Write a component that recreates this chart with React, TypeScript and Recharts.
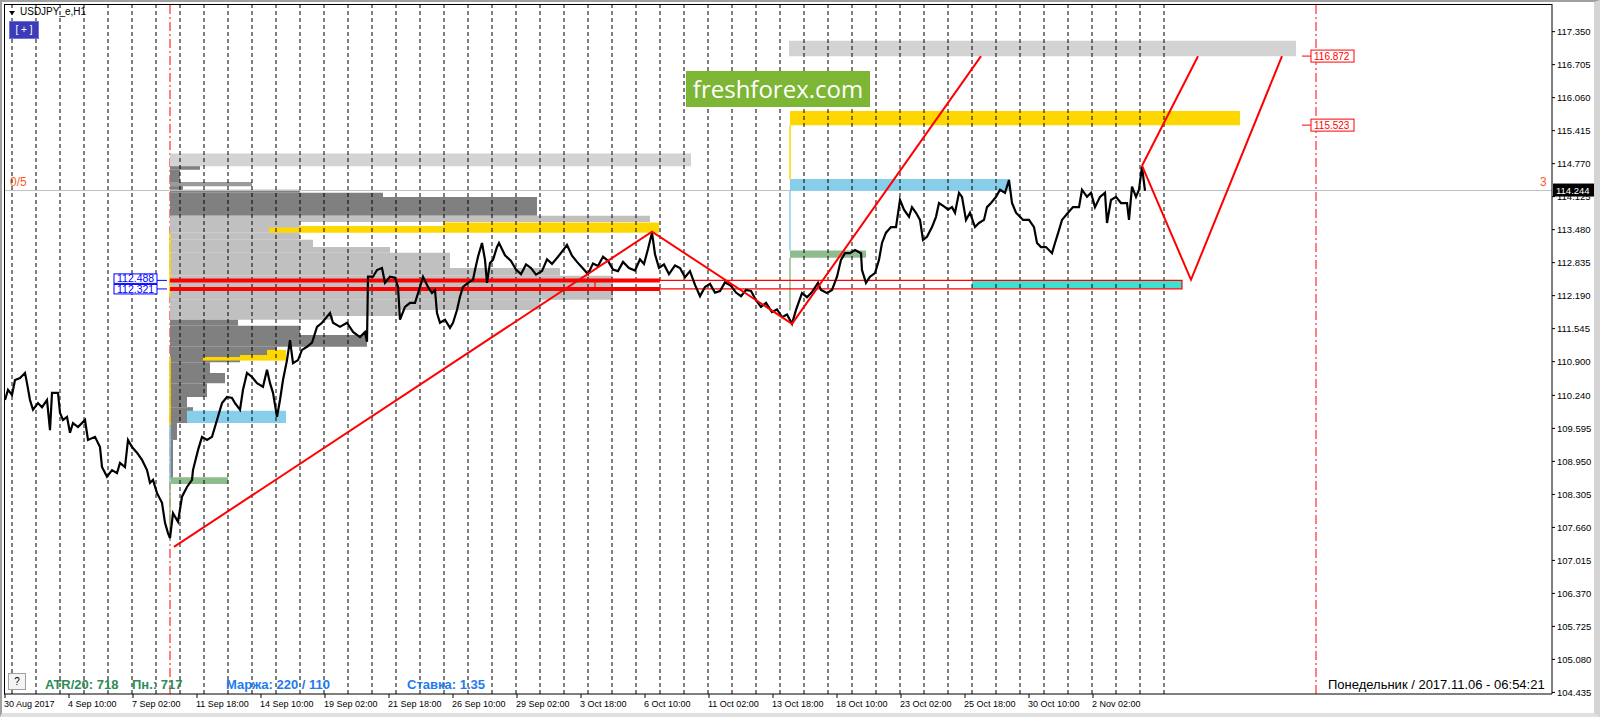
import { ComposedChart, Line, XAxis, YAxis, ReferenceLine, ReferenceArea } from 'recharts';

const FONT = '"Liberation Sans", Arial, sans-serif';

// time axis: H1 bar index -> label
const labelBars = [0, 64, 128, 192, 256, 320, 384, 448, 512, 576, 640, 704, 768, 832, 896, 960, 1024, 1088];
const labelTexts = [
  '30 Aug 2017', '4 Sep 10:00', '7 Sep 02:00', '11 Sep 18:00', '14 Sep 10:00', '19 Sep 02:00',
  '21 Sep 18:00', '26 Sep 10:00', '29 Sep 02:00', '3 Oct 18:00', '6 Oct 10:00', '11 Oct 02:00',
  '13 Oct 18:00', '18 Oct 10:00', '23 Oct 02:00', '25 Oct 18:00', '30 Oct 10:00', '2 Nov 02:00',
];

// period separators (midnight of each trading day)
const daySeparators = [
  7, 31, 55, 79, 103, 127, 151, 175, 199, 223, 247, 271, 295, 319, 343, 367, 391, 415, 439, 463,
  487, 511, 535, 559, 583, 607, 631, 655, 679, 703, 727, 751, 775, 799, 823, 847, 871, 895, 919,
  943, 967, 991, 1015, 1039, 1063, 1087, 1111, 1135, 1159,
];

const priceTicks = [
  117.35, 116.705, 116.06, 115.415, 114.77, 114.125, 113.48, 112.835, 112.19, 111.545, 110.9,
  110.24, 109.595, 108.95, 108.305, 107.66, 107.015, 106.37, 105.725, 105.08, 104.435,
];

const lastPrice = 114.244;
const upperLevel = 112.488;
const lowerLevel = 112.321;
const targetHigh = 116.872;
const targetMid = 115.523;
const sessionBar = 165;
const forecastBar = 1311;

// USDJPY H1 path [bar, price]
const priceTrace: [number, number][] = [
  [0, 110.15], [3, 110.35], [7, 110.25], [10, 110.54], [15, 110.58], [20, 110.68], [22, 110.48],
  [25, 110.15], [28, 109.96], [33, 110.09], [37, 110.01], [42, 110.15], [45, 109.56], [47, 110.29],
  [50, 110.29], [53, 110.29], [55, 109.9], [58, 109.76], [62, 109.82], [65, 109.51], [68, 109.7],
  [73, 109.62], [80, 109.76], [83, 109.37], [90, 109.43], [95, 109.23], [97, 108.84], [102, 108.65],
  [107, 108.78], [112, 108.72], [115, 108.92], [120, 108.84], [123, 109.37], [127, 109.23],
  [132, 109.12], [137, 108.98], [142, 108.78], [145, 108.53], [148, 108.59], [152, 108.33],
  [157, 108.14], [160, 107.75], [163, 107.55], [165, 107.45], [168, 107.94], [173, 107.77],
  [177, 108.26], [182, 108.45], [187, 108.59], [188, 108.78], [193, 109.17], [197, 109.43],
  [202, 109.37], [207, 109.43], [212, 109.76], [217, 110.09], [222, 110.21], [227, 110.19],
  [230, 110.09], [235, 109.96], [238, 110.35], [242, 110.68], [247, 110.6], [252, 110.48],
  [258, 110.41], [262, 110.74], [265, 110.48], [268, 110.29], [272, 109.82], [275, 110.15],
  [278, 110.54], [282, 110.93], [285, 111.32], [288, 110.87], [293, 110.93], [297, 111.13],
  [302, 111.19], [307, 111.27], [312, 111.58], [317, 111.66], [325, 111.85], [328, 111.66],
  [335, 111.58], [342, 111.66], [348, 111.48], [355, 111.38], [360, 111.48], [362, 111.29],
  [363, 112.56], [368, 112.56], [372, 112.69], [377, 112.73], [380, 112.44], [385, 112.56],
  [390, 112.54], [393, 112.36], [395, 111.72], [400, 111.97], [405, 112.05], [410, 112.05],
  [415, 112.36], [418, 112.56], [423, 112.36], [427, 112.24], [430, 112.3], [432, 111.85],
  [435, 111.66], [440, 111.72], [445, 111.56], [448, 111.66], [452, 111.91], [455, 112.17],
  [458, 112.36], [463, 112.44], [468, 112.5], [470, 112.69], [473, 112.95], [477, 113.22],
  [480, 112.89], [482, 112.44], [485, 112.83], [488, 112.89], [492, 113.14], [494, 113.22],
  [500, 112.98], [506, 112.87], [511, 112.7], [516, 112.61], [521, 112.8], [526, 112.73],
  [531, 112.6], [537, 112.67], [542, 112.9], [547, 112.81], [553, 112.95], [557, 113.05],
  [562, 113.18], [567, 112.97], [572, 112.85], [578, 112.72], [583, 112.61], [588, 112.82],
  [593, 112.77], [598, 112.95], [603, 112.87], [608, 112.7], [613, 112.67], [618, 112.85],
  [624, 112.73], [630, 112.68], [635, 112.9], [639, 112.81], [643, 113.1], [647, 113.42],
  [650, 113.0], [654, 112.73], [659, 112.8], [664, 112.61], [670, 112.78], [675, 112.73],
  [680, 112.55], [685, 112.67], [690, 112.4], [695, 112.18], [700, 112.36], [705, 112.42],
  [710, 112.25], [715, 112.28], [720, 112.45], [726, 112.38], [731, 112.25], [736, 112.18],
  [741, 112.3], [746, 112.28], [751, 112.1], [756, 111.97], [761, 112.05], [767, 111.87],
  [772, 111.92], [777, 111.77], [782, 111.82], [787, 111.64], [791, 111.91], [797, 112.24],
  [802, 112.16], [807, 112.26], [813, 112.44], [816, 112.3], [822, 112.24], [827, 112.3],
  [832, 112.56], [836, 112.89], [840, 113.02], [845, 113.02], [850, 113.08], [856, 113.02],
  [857, 112.69], [861, 112.44], [865, 112.56], [870, 112.63], [874, 112.89], [877, 113.22],
  [881, 113.42], [886, 113.53], [891, 113.53], [895, 114.06], [899, 113.87], [904, 113.73],
  [907, 113.92], [911, 113.81], [915, 113.67], [918, 113.28], [922, 113.34], [927, 113.53],
  [931, 113.73], [934, 114.0], [940, 113.92], [943, 113.87], [947, 113.92], [950, 113.81],
  [954, 114.2], [957, 114.12], [961, 113.67], [965, 113.81], [970, 113.53], [974, 113.61],
  [979, 113.67], [982, 113.92], [986, 114.0], [991, 114.12], [995, 114.26], [1000, 114.2],
  [1004, 114.45], [1007, 114.0], [1011, 113.81], [1015, 113.73], [1018, 113.67], [1024, 113.67],
  [1029, 113.53], [1032, 113.22], [1036, 113.14], [1041, 113.14], [1047, 113.02], [1050, 113.22],
  [1054, 113.47], [1057, 113.67], [1063, 113.81], [1068, 113.92], [1074, 113.92], [1077, 114.26],
  [1082, 114.12], [1086, 114.2], [1090, 113.92], [1095, 114.12], [1100, 114.2], [1102, 113.61],
  [1106, 114.06], [1111, 114.12], [1116, 114.0], [1122, 114.0], [1124, 113.67], [1127, 114.32],
  [1131, 114.12], [1134, 114.26], [1137, 114.71], [1140, 114.24],
];

// red zigzag / forecast
const zigzagPast: [number, number][] = [[169, 107.28], [647, 113.44], [787, 111.64], [976, 116.87]];
const forecastUp: [number, number][] = [[1137, 114.73], [1193, 116.87]];
const forecastSwing: [number, number][] = [[1137, 114.73], [1186, 112.5], [1277, 116.87]];

// volume profile rows [hi, lo, endBar, tone]
const profileRows: [number, number, number, string][] = [
  [114.73, 114.65, 195, 'dark'], [114.65, 114.41, 175, 'dark'], [114.41, 114.33, 247, 'mid'],
  [114.33, 114.26, 178, 'dark'], [114.26, 114.2, 295, 'dark'], [114.2, 114.12, 378, 'dark'],
  [114.12, 113.75, 532, 'dark'], [113.75, 113.63, 645, 'light'], [113.63, 113.42, 295, 'light'],
  [113.42, 113.28, 295, 'light'], [113.28, 113.14, 308, 'light'], [113.14, 113.03, 385, 'light'],
  [113.03, 112.73, 445, 'light'], [112.73, 112.58, 555, 'light'], [112.58, 112.11, 608, 'light'],
  [112.11, 111.91, 535, 'light'], [111.91, 111.79, 395, 'light'], [111.79, 111.72, 328, 'light'],
  [111.72, 111.6, 233, 'dark'], [111.6, 111.42, 295, 'dark'], [111.42, 111.19, 362, 'dark'],
  [111.19, 111.03, 272, 'dark'], [111.03, 110.89, 235, 'dark'], [110.89, 110.68, 205, 'dark'],
  [110.68, 110.48, 220, 'dark'], [110.48, 110.21, 202, 'dark'], [110.21, 110.01, 182, 'dark'],
  [110.01, 109.7, 188, 'dark'], [109.7, 109.37, 172, 'dark'], [109.37, 108.59, 168, 'dark'],
];

// zones [fromBar, toBar, lo, hi, kind]
const zones: [number, number, number, number, string][] = [
  [165, 686, 114.72, 114.97, 'gray'],
  [264, 295, 113.42, 113.52, 'yellow'],
  [295, 438, 113.42, 113.55, 'yellow'],
  [438, 654, 113.42, 113.62, 'yellow'],
  [198, 235, 110.92, 110.99, 'yellow'],
  [235, 262, 110.92, 111.03, 'yellow'],
  [262, 281, 110.92, 111.13, 'yellow'],
  [182, 281, 109.7, 109.94, 'blue'],
  [166, 223, 108.51, 108.64, 'green'],
  [784, 1291, 116.87, 117.17, 'gray'],
  [785, 1235, 115.52, 115.8, 'yellow'],
  [785, 1005, 114.24, 114.47, 'blue'],
  [785, 861, 112.93, 113.07, 'green'],
  [967, 1177, 112.33, 112.48, 'teal'],
];

// thin coloured legs on the zone anchors [bar, lo, hi, kind]
const zoneLegs: [number, number, number, string][] = [
  [785, 114.47, 115.52, 'yellow'], [785, 113.07, 114.24, 'blue'], [785, 111.9, 112.93, 'green'],
  [165, 112.17, 113.42, 'yellow'], [165, 109.66, 111.0, 'yellow'], [165, 108.53, 109.66, 'blue'],
  [165, 107.4, 108.53, 'green'],
];

const toneFill: Record<string, string> = { dark: '#808080', mid: '#9a9a9a', light: '#c0c0c0' };
const zoneFill: Record<string, string> = {
  gray: '#d3d3d3', yellow: '#ffd700', blue: '#87ceeb', green: '#8fbc8f', teal: '#40e0d0',
};

const toPoints = (rows: [number, number][]) => rows.map(([bar, price]) => ({ bar, price }));
const priceData = toPoints(priceTrace);

const labelFor = (bar: number) => labelTexts[labelBars.indexOf(bar)] ?? '';

const TimeTick = ({ x, y, payload }: any) => (
  <text x={x - 1} y={y + 7} fontSize={9} fontFamily={FONT} fill="#000">
    {labelFor(payload.value)}
  </text>
);

const PriceTick = ({ x, y, payload }: any) => (
  <text x={x} y={y + 3.5} fontSize={9.5} fontFamily={FONT} fill="#000">
    {Number(payload.value).toFixed(3)}
  </text>
);

const CurrentTag = ({ viewBox }: any) => {
  const { x, y, width } = viewBox;
  const right = x + width;
  return (
    <g fontFamily={FONT}>
      <text x={x + 6} y={y - 5} fill="#ff5a1f" fontSize={12}>0/5</text>
      <text x={right - 12} y={y - 5} fill="#ff5a1f" fontSize={12}>3</text>
      <rect x={right + 1} y={y - 7} width={41} height={13} fill="#000" />
      <text x={right + 4} y={y + 3.5} fill="#fff" fontSize={9.5}>{lastPrice.toFixed(3)}</text>
    </g>
  );
};

const LeftTag = ({ viewBox, text, dy }: any) => {
  const { x, y } = viewBox;
  return (
    <g fontFamily={FONT}>
      <rect x={x - 43} y={y - 5 + dy} width={43} height={9.5} fill="#fff" stroke="#0000ff" />
      <text x={x - 40} y={y + 3.5 + dy} fill="#0000ff" fontSize={10.5}>{text}</text>
    </g>
  );
};

const RightTag = ({ viewBox, text }: any) => {
  const { x, y, width } = viewBox;
  return (
    <g fontFamily={FONT}>
      <rect x={x + width} y={y - 6} width={43} height={12} fill="#fff" stroke="#ff0000" />
      <text x={x + width + 3} y={y + 3.5} fill="#ff0000" fontSize={10}>{text}</text>
    </g>
  );
};

const infoText = { position: 'absolute' as const, top: 677, fontFamily: FONT, fontSize: 13, fontWeight: 700, whiteSpace: 'pre' as const };

export default function App() {
  return (
    <div style={{ position: 'absolute', left: 0, top: 0, width: 1600, height: 717, background: '#fff', overflow: 'hidden' }}>
      <ComposedChart width={1600} height={717} data={priceData} margin={{ top: 4, right: 4, left: 4, bottom: 0 }}>
        <XAxis
          dataKey="bar"
          type="number"
          domain={[-1, 1547]}
          allowDataOverflow
          ticks={labelBars}
          interval={0}
          tick={<TimeTick />}
          tickSize={4}
          tickMargin={2}
          height={23}
          axisLine={{ stroke: '#000' }}
          tickLine={{ stroke: '#000' }}
        />
        <YAxis
          orientation="right"
          type="number"
          domain={[104.404, 117.89]}
          allowDataOverflow
          ticks={priceTicks}
          interval={0}
          tick={<PriceTick />}
          tickSize={3}
          tickMargin={2}
          width={44}
          axisLine={{ stroke: '#000' }}
          tickLine={{ stroke: '#000' }}
        />

        <ReferenceLine x={sessionBar} stroke="#ff0000" strokeDasharray="9 3 2 3" zIndex={50} />
        <ReferenceLine x={forecastBar} stroke="#ff0000" strokeDasharray="9 3 2 3" zIndex={50} />

        {profileRows.map(([hi, lo, end, tone], i) => (
          <ReferenceArea key={`p${i}`} x1={sessionBar} x2={end} y1={lo} y2={hi} fill={toneFill[tone]} fillOpacity={1} stroke="none" zIndex={100} />
        ))}

        <ReferenceLine y={lastPrice} stroke="#c0c0c0" label={<CurrentTag />} zIndex={120} />

        {zones.map(([from, to, lo, hi, kind], i) => (
          <ReferenceArea key={`z${i}`} x1={from} x2={to} y1={lo} y2={hi} fill={zoneFill[kind]} fillOpacity={1} stroke="none" zIndex={130} />
        ))}
        {zoneLegs.map(([bar, lo, hi, kind], i) => (
          <ReferenceLine key={`l${i}`} segment={[{ x: bar, y: lo }, { x: bar, y: hi }]} stroke={zoneFill[kind]} strokeWidth={1.5} zIndex={140} />
        ))}

        {daySeparators.map((b) => (
          <ReferenceLine key={`d${b}`} x={b} stroke="#000" strokeDasharray="4 3" zIndex={150} />
        ))}

        <ReferenceArea x1={590} x2={1177} y1={lowerLevel} y2={upperLevel} fill="none" stroke="#ff0000" strokeWidth={1.2} zIndex={160} />
        <ReferenceLine segment={[{ x: sessionBar, y: upperLevel }, { x: 655, y: upperLevel }]} stroke="#ff0000" strokeWidth={4} zIndex={160} />
        <ReferenceLine segment={[{ x: sessionBar, y: lowerLevel }, { x: 655, y: lowerLevel }]} stroke="#ff0000" strokeWidth={4} zIndex={160} />

        <ReferenceLine
          segment={[{ x: 152, y: upperLevel }, { x: 162, y: upperLevel }]}
          stroke="#0000ff"
          label={<LeftTag text={upperLevel.toFixed(3)} dy={-1.5} />}
        />
        <ReferenceLine
          segment={[{ x: 152, y: lowerLevel }, { x: 162, y: lowerLevel }]}
          stroke="#0000ff"
          label={<LeftTag text={lowerLevel.toFixed(3)} dy={0.5} />}
        />
        <ReferenceLine
          segment={[{ x: 1297, y: targetHigh }, { x: 1306, y: targetHigh }]}
          stroke="#ff0000"
          label={<RightTag text={targetHigh.toFixed(3)} />}
        />
        <ReferenceLine
          segment={[{ x: 1297, y: targetMid }, { x: 1306, y: targetMid }]}
          stroke="#ff0000"
          label={<RightTag text={targetMid.toFixed(3)} />}
        />

        <Line dataKey="price" type="linear" stroke="#000" strokeWidth={2.2} dot={false} isAnimationActive={false} />
        <Line data={toPoints(zigzagPast)} dataKey="price" type="linear" stroke="#ff0000" strokeWidth={2} dot={false} isAnimationActive={false} />
        <Line data={toPoints(forecastUp)} dataKey="price" type="linear" stroke="#ff0000" strokeWidth={2} dot={false} isAnimationActive={false} />
        <Line data={toPoints(forecastSwing)} dataKey="price" type="linear" stroke="#ff0000" strokeWidth={2} dot={false} isAnimationActive={false} />
      </ComposedChart>

      {/* frame */}
      <div style={{ position: 'absolute', left: 4, top: 4, width: 1548, height: 690, borderLeft: '1px solid #000', borderTop: '1px solid #000', boxSizing: 'border-box', pointerEvents: 'none' }} />
      <div style={{ position: 'absolute', left: 0, top: 0, width: 1600, height: 717, borderLeft: '2px solid #a0a0a0', borderTop: '2px solid #a0a0a0', borderRight: '6px solid #d4d4d4', borderBottom: '4px solid #e0e0e0', boxSizing: 'border-box', pointerEvents: 'none' }} />

      {/* header */}
      <div style={{ position: 'absolute', left: 9, top: 11, width: 0, height: 0, borderLeft: '3.5px solid transparent', borderRight: '3.5px solid transparent', borderTop: '4px solid #000' }} />
      <div style={{ position: 'absolute', left: 20, top: 6, fontFamily: FONT, fontSize: 10, color: '#000' }}>USDJPY_e,H1</div>
      <div style={{ position: 'absolute', left: 9, top: 21, width: 30, height: 18, background: '#3c3cb8', border: '1px solid #7070e0', boxSizing: 'border-box', color: '#fff', fontFamily: FONT, fontSize: 10, lineHeight: '16px', textAlign: 'center' }}>[ + ]</div>

      {/* watermark */}
      <div style={{ position: 'absolute', left: 686, top: 71, width: 184, height: 36, background: '#7db534', color: '#fff', fontFamily: '"Open Sans", sans-serif', fontSize: 24, lineHeight: '35px', textAlign: 'center' }}>freshforex.com</div>

      {/* bottom info */}
      <div style={{ position: 'absolute', left: 8, top: 673, width: 18, height: 17, background: '#f4f4f4', border: '1px solid #a0a0a0', boxSizing: 'border-box', fontFamily: FONT, fontSize: 10, lineHeight: '15px', textAlign: 'center' }}>?</div>
      <div style={{ ...infoText, left: 45, color: '#2e8b57' }}>ATR/20: 718</div>
      <div style={{ ...infoText, left: 132, color: '#2e8b57' }}>Пн.: 717</div>
      <div style={{ ...infoText, left: 226, color: '#1e7bef' }}>Маржа: 220 / 110</div>
      <div style={{ ...infoText, left: 407, color: '#1e7bef' }}>Ставка: 1.35</div>
      <div style={{ position: 'absolute', left: 1328, top: 677, fontFamily: FONT, fontSize: 13, color: '#000', whiteSpace: 'pre' }}>Понедельник / 2017.11.06 - 06:54:21</div>
    </div>
  );
}
